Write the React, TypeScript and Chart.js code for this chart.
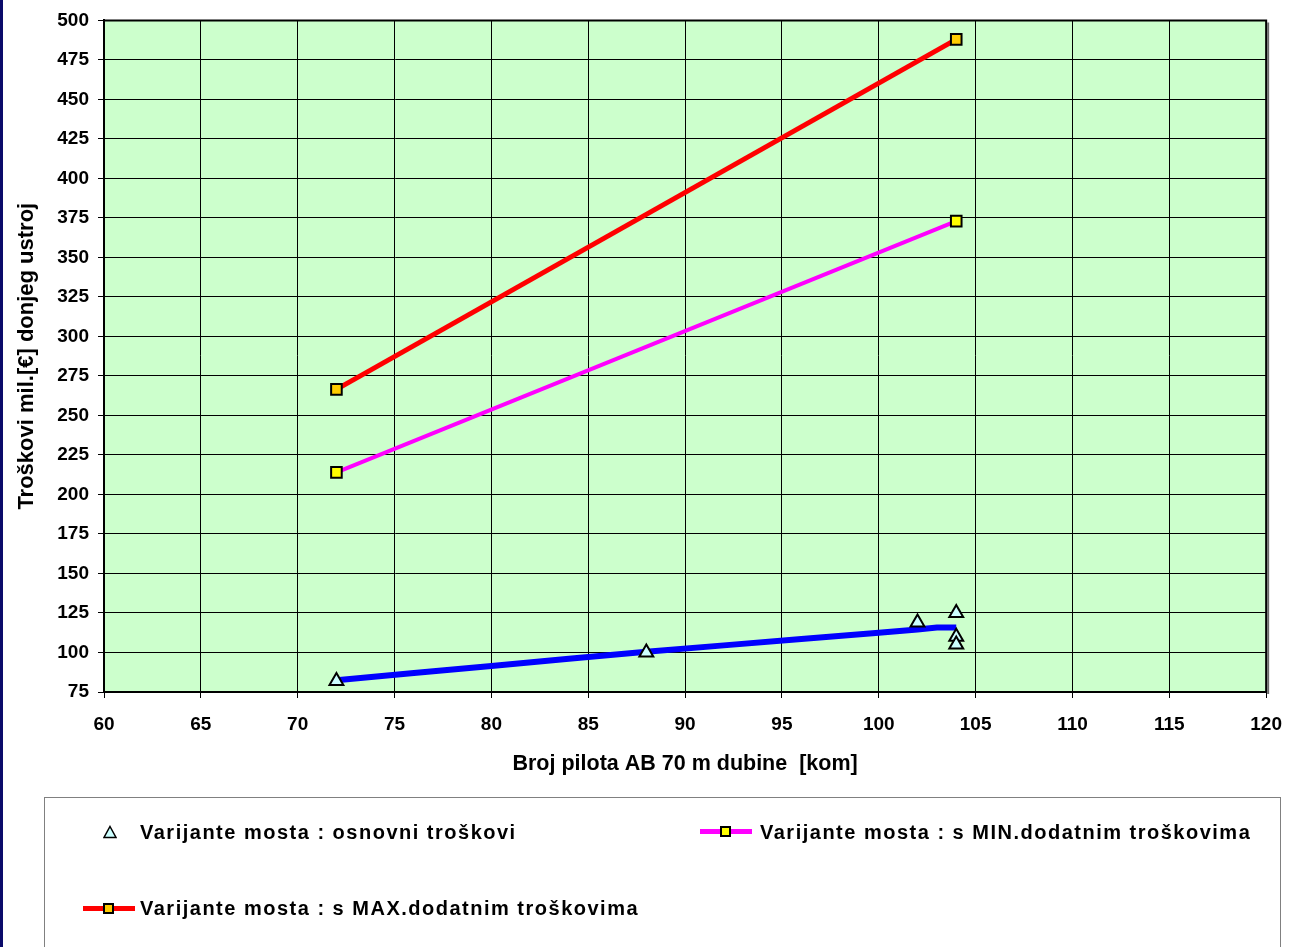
import React, { useEffect, useRef } from "react";
import { Chart, registerables } from "chart.js";

Chart.register(...registerables);

// ---- data ----
const baseX = [72, 88, 102, 104, 104, 104];
const baseY = [82, 100, 119, 125, 110, 105];

const trendX = [72, 76, 80, 84, 88, 92, 96, 100, 102, 103, 104];
const trendY = [82.5, 87, 91.5, 96, 100.5, 104.5, 108.5, 112.5, 114.5, 115.8, 115.8];

const minX = [72, 104];
const minY = [214, 373];

const maxX = [72, 104];
const maxY = [266.5, 488];

const xTicks = { min: 60, max: 120, step: 5 };
const yTicks = { min: 75, max: 500, step: 25 };

const labelBase = "Varijante mosta : osnovni troškovi";
const labelMin = "Varijante mosta : s MIN.dodatnim troškovima";
const labelMax = "Varijante mosta : s MAX.dodatnim troškovima";
const xTitle = "Broj pilota AB 70 m dubine  [kom]";
const yTitle = "Troškovi mil.[€] donjeg ustroj";

const toPts = (xs: number[], ys: number[]) => xs.map((x, i) => ({ x, y: ys[i] }));

const FONT = "Arial, 'Liberation Sans', sans-serif";

const plotBg = {
  id: "plotBg",
  beforeDraw(chart: any) {
    const { ctx, chartArea } = chart;
    ctx.save();
    ctx.fillStyle = "#CCFFCC";
    ctx.fillRect(chartArea.left, chartArea.top, chartArea.right - chartArea.left, chartArea.bottom - chartArea.top);
    ctx.restore();
  },
  afterDraw(chart: any) {
    const { ctx, chartArea } = chart;
    ctx.save();
    ctx.strokeStyle = "#000";
    ctx.lineWidth = 2;
    ctx.beginPath();
    ctx.moveTo(chartArea.left, chartArea.top);
    ctx.lineTo(chartArea.right, chartArea.top);
    ctx.lineTo(chartArea.right, chartArea.bottom);
    ctx.stroke();
    ctx.strokeStyle = "#6a6a6a";
    ctx.lineWidth = 2;
    ctx.beginPath();
    ctx.moveTo(chartArea.right + 2, chartArea.top + 2);
    ctx.lineTo(chartArea.right + 2, chartArea.bottom + 2);
    ctx.stroke();
    ctx.restore();
  },
};

function App() {
  const ref = useRef<HTMLCanvasElement | null>(null);

  useEffect(() => {
    if (!ref.current) return;
    const tickFont = { family: FONT, size: 19, weight: "bold" as const };
    const xTitleFont = { family: FONT, size: 21.5, weight: "bold" as const };
    const yTitleFont = { family: FONT, size: 22, weight: "bold" as const };
    const chart = new Chart(ref.current, {
      type: "scatter",
      data: {
        datasets: [
          {
            label: labelBase,
            data: toPts(baseX, baseY),
            showLine: false,
            pointStyle: "triangle",
            pointRadius: 8,
            backgroundColor: "#CCFFFF",
            borderColor: "#000000",
            pointBorderWidth: 2,
          },
          {
            label: "trend",
            data: toPts(trendX, trendY),
            showLine: true,
            borderColor: "#0000FF",
            borderWidth: 6,
            pointRadius: 0,
            tension: 0,
          },
          {
            label: labelMin,
            data: toPts(minX, minY),
            showLine: true,
            borderColor: "#FF00FF",
            borderWidth: 4,
            pointStyle: "rect",
            pointRadius: 7.5,
            pointBackgroundColor: "#FFFF00",
            pointBorderColor: "#000000",
            pointBorderWidth: 2,
          },
          {
            label: labelMax,
            data: toPts(maxX, maxY),
            showLine: true,
            borderColor: "#FF0000",
            borderWidth: 5,
            pointStyle: "rect",
            pointRadius: 7.5,
            pointBackgroundColor: "#FFCC00",
            pointBorderColor: "#000000",
            pointBorderWidth: 2,
          },
        ],
      },
      options: {
        animation: false,
        responsive: false,
        maintainAspectRatio: false,
        layout: { padding: { left: 0, top: 19, right: 30, bottom: 155 } },
        plugins: { legend: { display: false }, tooltip: { enabled: false } },
        scales: {
          x: {
            type: "linear",
            min: xTicks.min,
            max: xTicks.max,
            ticks: { stepSize: xTicks.step, color: "#000", font: tickFont, padding: 15 },
            grid: { color: "#000", lineWidth: 1, tickLength: 6, tickColor: "#000" },
            border: { color: "#000", width: 2 },
            title: { display: true, text: xTitle, color: "#000", font: xTitleFont, padding: { top: 15, bottom: 15 } },
            afterFit: (s: any) => {
              s.height = 100;
            },
          },
          y: {
            type: "linear",
            min: yTicks.min,
            max: yTicks.max,
            ticks: { stepSize: yTicks.step, color: "#000", font: tickFont, padding: 9 },
            grid: { color: "#000", lineWidth: 1, tickLength: 6, tickColor: "#000" },
            border: { color: "#000", width: 2 },
            title: { display: true, text: yTitle, color: "#000", font: yTitleFont, padding: { top: 14, bottom: 14 } },
            afterFit: (s: any) => {
              s.width = 104;
            },
          },
        },
      },
      plugins: [plotBg],
    });
    return () => chart.destroy();
  }, []);

  const legendText: React.CSSProperties = {
    position: "absolute",
    fontFamily: FONT,
    fontWeight: "bold",
    fontSize: 20,
    letterSpacing: "1.5px",
    color: "#000",
    whiteSpace: "nowrap",
    lineHeight: "24px",
  };

  const sq = (bg: string, left: number, top: number): React.CSSProperties => ({
    position: "absolute",
    left,
    top,
    width: 11,
    height: 11,
    background: bg,
    border: "2px solid #000",
    boxSizing: "border-box",
  });

  return (
    <div
      style={{
        position: "absolute",
        left: 0,
        top: 0,
        width: 1297,
        height: 947,
        overflow: "hidden",
        background: "#fff",
      }}
    >
      <canvas ref={ref} width={1297} height={947} style={{ position: "absolute", left: 0, top: 0, width: 1297, height: 947 }} />
      <div style={{ position: "absolute", left: 0, top: 0, width: 3, height: 947, background: "#0A0A6A" }} />
      <div
        style={{
          position: "absolute",
          left: 44,
          top: 797,
          width: 1237,
          height: 200,
          border: "1px solid #808080",
          boxSizing: "border-box",
        }}
      />
      {/* row 1 : base */}
      <svg style={{ position: "absolute", left: 103, top: 825 }} width={14} height={14}>
        <polygon points="7,1.5 13,12.5 1,12.5" fill="#CCFFFF" stroke="#000" strokeWidth={1.5} />
      </svg>
      <div style={{ ...legendText, left: 140, top: 820 }}>{labelBase}</div>
      {/* row 1 : min */}
      <div style={{ position: "absolute", left: 700, top: 829, width: 52, height: 5, background: "#FF00FF" }} />
      <div style={sq("#FFFF00", 720, 826)} />
      <div style={{ ...legendText, left: 760, top: 820 }}>{labelMin}</div>
      {/* row 2 : max */}
      <div style={{ position: "absolute", left: 83, top: 906, width: 52, height: 5, background: "#FF0000" }} />
      <div style={sq("#FFCC00", 103, 903)} />
      <div style={{ ...legendText, left: 140, top: 896 }}>{labelMax}</div>
    </div>
  );
}

export default App;
